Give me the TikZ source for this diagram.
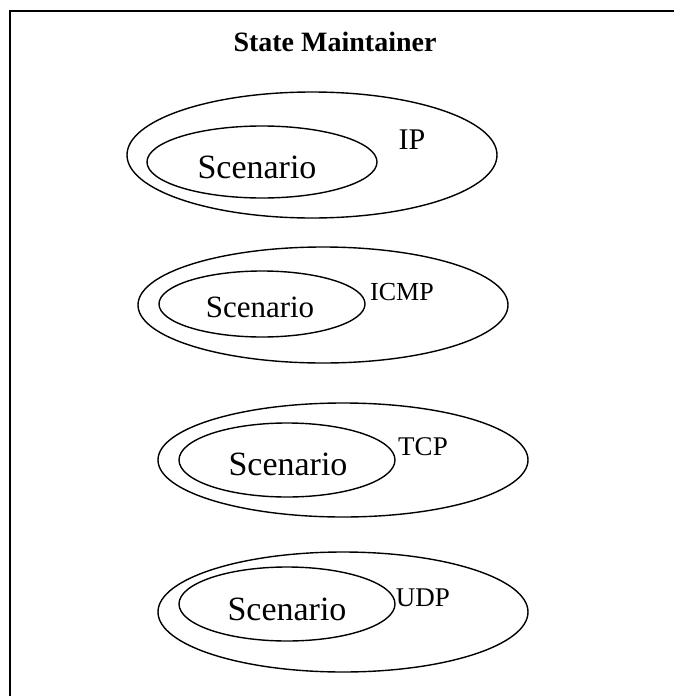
\documentclass[tikz,border=0pt]{standalone}
\usepackage{fontspec}
\setmainfont{Liberation Serif}
\usetikzlibrary{shapes.geometric}
\tikzset{
  ring/.style={draw, ellipse, inner sep=0pt, line width=1.4pt},
  scen/.style={font=\fontsize{34}{40}\selectfont, inner sep=0pt},
  proto/.style={font=\fontsize{27}{32}\selectfont, inner sep=0pt}
}
\begin{document}
\begin{tikzpicture}[x=1pt, y=-1pt]
\useasboundingbox (0,0) rectangle (674,696);
% frame: top and left edges, running off the page
\coordinate (frameR) at (674,11);
\coordinate (frameTL) at (10,11);
\coordinate (frameB) at (10,696);
\draw[line width=1.6pt] (frameR) -- (frameTL) -- (frameB);
\node[font=\bfseries\fontsize{28}{34}\selectfont, inner sep=0pt] (title) at (335,42) {State Maintainer};

% IP layer
\node[ring, minimum width=370pt, minimum height=126pt] (ipo) at (312,155) {};
\node[ring, minimum width=230pt, minimum height=72pt] (ipi) at (262,162) {};
\node[scen] (ips) at (257,167) {Scenario};
\node[font=\fontsize{30}{36}\selectfont, inner sep=0pt] (ipl) at (412,140) {IP};

% ICMP layer
\node[ring, minimum width=370pt, minimum height=116pt] (icmpo) at (323,305) {};
\node[ring, minimum width=206pt, minimum height=66pt] (icmpi) at (262,304) {};
\node[scen, font=\fontsize{31}{36}\selectfont] (icmps) at (260,307) {Scenario};
\node[proto, font=\fontsize{26}{31}\selectfont] (icmpl) at (402,292) {ICMP};

% TCP layer
\node[ring, minimum width=370pt, minimum height=114pt] (tcpo) at (343,460) {};
\node[ring, minimum width=216pt, minimum height=74pt] (tcpi) at (287,460) {};
\node[scen] (tcps) at (288,464) {Scenario};
\node[proto] (tcpl) at (423,447) {TCP};

% UDP layer
\node[ring, minimum width=370pt, minimum height=120pt] (udpo) at (343,612) {};
\node[ring, minimum width=216pt, minimum height=74pt] (udpi) at (287,604) {};
\node[scen] (udps) at (287,609) {Scenario};
\node[proto] (udpl) at (423,598) {UDP};
\end{tikzpicture}
\end{document}
